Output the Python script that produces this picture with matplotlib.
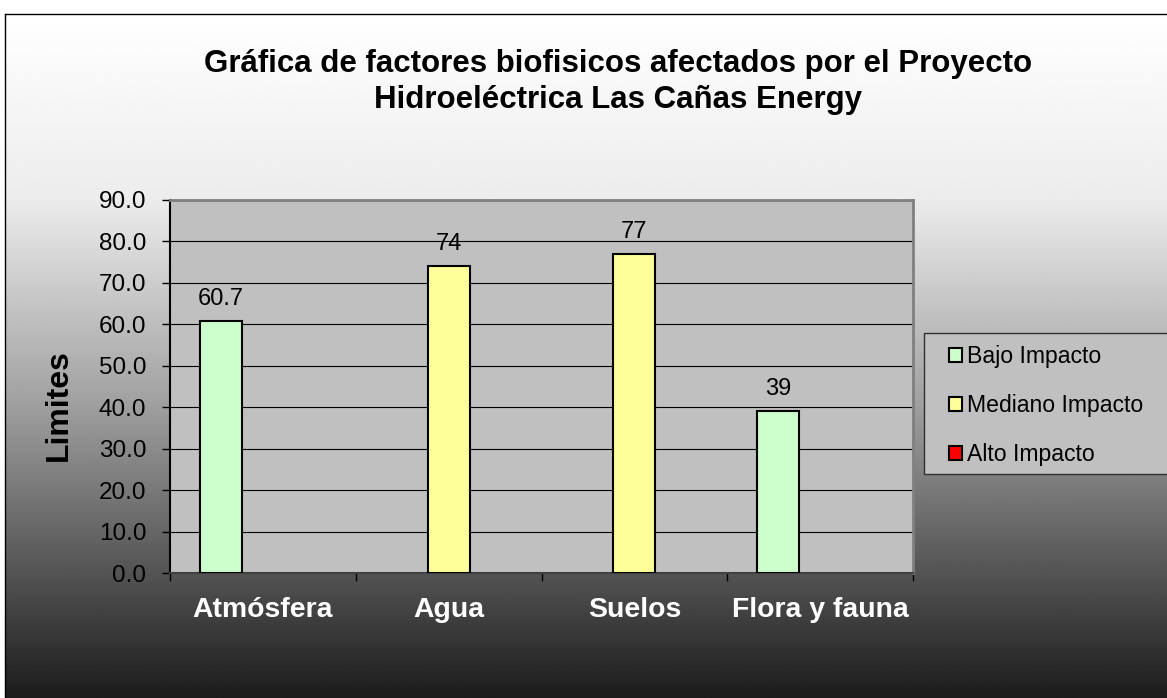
import numpy as np
import matplotlib
matplotlib.use("Agg")
import matplotlib.pyplot as plt
from matplotlib.patches import Patch, Rectangle

plt.rcParams['font.family'] = ['Liberation Sans', 'DejaVu Sans']

# datos del grafico
categorias = ['Atmósfera', 'Agua', 'Suelos', 'Flora y fauna']
bajo = [60.7, np.nan, np.nan, 39]
mediano = [np.nan, 74, 77, np.nan]
alto = [np.nan, np.nan, np.nan, np.nan]
series = ['Bajo Impacto', 'Mediano Impacto', 'Alto Impacto']
colores = ['#CCFFCC', '#FFFF99', '#FF0000']
yticks = np.arange(0, 91, 10)
titulo = 'Gráfica de factores biofisicos afectados por el Proyecto\nHidroeléctrica Las Cañas Energy'

W, H = 1167, 698
fig = plt.figure(figsize=(W / 100, H / 100), dpi=100)

# fondo degradado blanco -> negro
bg = fig.add_axes([5 / W, 0, 1 - 5 / W, (H - 14) / H], zorder=0)
t = np.linspace(0, 1, 400)
g = np.interp(t, [0, 0.27, 0.57, 0.83, 1.0], [255, 236, 160, 80, 28]) / 255
bg.imshow(np.tile(g[:, None], (1, 2)), cmap='gray', vmin=0, vmax=1,
          aspect='auto', extent=[0, 1, 0, 1], origin='upper')
bg.set_xlim(0, 1)
bg.set_ylim(0, 1)
bg.axis('off')
fig.add_artist(plt.Line2D([5 / W, 5 / W], [0, (H - 14) / H], color='black', lw=1))
fig.add_artist(plt.Line2D([5 / W, 1], [(H - 14) / H, (H - 14) / H], color='black', lw=1))

ax = fig.add_axes([170 / W, 1 - 573 / H, (913 - 170) / W, (573 - 200) / H], zorder=2)
ax.set_facecolor('#C0C0C0')

x = np.arange(len(categorias))
w = 0.226
for i, (vals, col) in enumerate(zip([bajo, mediano, alto], colores)):
    bars = ax.bar(x + (i - 1) * w, vals, width=w, color=col, edgecolor='black',
                  linewidth=1.5, zorder=3)
    for b, v in zip(bars, vals):
        if np.isnan(v):
            continue
        ax.annotate('{:g}'.format(v), (b.get_x() + b.get_width() / 2, v),
                    xytext=(0, 8), textcoords='offset points',
                    ha='center', va='bottom', fontsize=17)

ax.set_xlim(-0.5, len(categorias) - 0.5)
ax.set_ylim(0, 90)
ax.set_yticks(yticks)
ax.set_yticklabels(['{:.1f}'.format(v) for v in yticks], fontsize=17.5)
ax.yaxis.grid(True, color='black', lw=0.8, zorder=1)
ax.set_axisbelow(True)
ax.tick_params(axis='y', direction='out', length=6, width=1, pad=11)

ax.set_xticks(x)
ax.set_xticklabels(categorias, fontsize=20.4, fontweight='bold', color='white')
ax.set_xticks(np.arange(-0.5, len(categorias)), minor=True)
ax.tick_params(axis='x', which='major', length=0, pad=17)
ax.tick_params(axis='x', which='minor', direction='out', length=6, width=1)

for s in ['top', 'right']:
    ax.spines[s].set_color('#808080')
    ax.spines[s].set_linewidth(2)
ax.spines['left'].set_color('black')
ax.spines['left'].set_linewidth(1.5)
ax.spines['bottom'].set_color('#404040')
ax.spines['bottom'].set_linewidth(1.5)

ax.set_ylabel('Limites', fontsize=23, fontweight='bold')
ax.yaxis.set_label_coords((74 - 170) / 743, (573 - 405) / 373)

fig.text(618 / W, 1 - 82 / H, titulo, ha='center', va='center',
         fontsize=22.5, fontweight='bold', linespacing=1.27)

# leyenda
fig.add_artist(Rectangle((924 / W, 1 - 474 / H), (W - 924 + 10) / W, (474 - 333) / H,
                         transform=fig.transFigure, facecolor='#C0C0C0',
                         edgecolor='#303030', lw=1, zorder=1))
handles = [Patch(facecolor=c, edgecolor='black', lw=1.5) for c in colores]
fig.legend(handles, series, loc='upper left', bbox_to_anchor=(940 / W, 1 - 336 / H),
           frameon=False, fontsize=16.6, handlelength=0.55, handleheight=0.55,
           handletextpad=0.2, labelspacing=1.12, borderaxespad=0)

fig.savefig('out.png', dpi=100)
